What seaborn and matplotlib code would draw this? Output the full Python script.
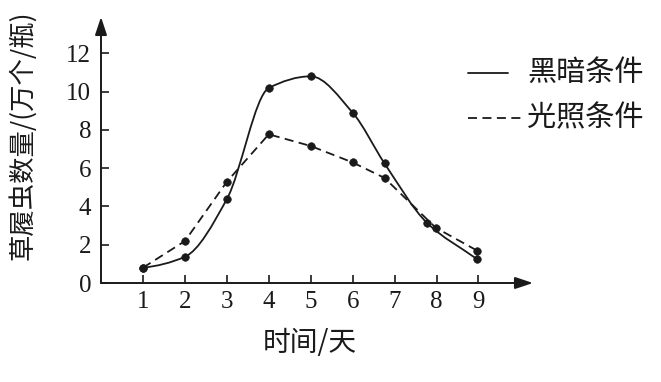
import numpy as np
import pandas as pd
import matplotlib
matplotlib.use("Agg")
import matplotlib.pyplot as plt
import seaborn as sns
from matplotlib.path import Path
from matplotlib.patches import PathPatch
from matplotlib.lines import Line2D

# ---- data ----
dark_x = [1, 2, 3, 4, 5, 6, 6.76, 7.77, 8.97]
dark_y = [0.8, 1.37, 4.38, 10.19, 10.8, 8.9, 6.25, 3.15, 1.24]
light_x = [1, 2, 3, 4, 5, 6, 6.76, 7.98, 8.97]
light_y = [0.8, 2.19, 5.29, 7.77, 7.16, 6.3, 5.49, 2.89, 1.69]
xticks = [1, 2, 3, 4, 5, 6, 7, 8, 9]
yticks = [0, 2, 4, 6, 8, 10, 12]
series_names = ["黑暗条件", "光照条件"]
xlabel = "时间/天"
ylabel = "草履虫数量/(万个/瓶)"

sns.set_theme(style="white")
plt.rcParams['font.family'] = ['Noto Sans CJK SC', 'DejaVu Sans']

INK = "#1a1a1a"
fig = plt.figure(figsize=(6.61, 3.82), dpi=100)
ax = fig.add_axes([101/661, 1-283/382, 432/661, 266/382])
ax.set_xlim(0, 10.3)
ax.set_ylim(0, 13.9)

df_dark = pd.DataFrame({"x": dark_x, "y": dark_y})
df_light = pd.DataFrame({"x": light_x, "y": light_y})

# smooth solid curve through the dark points: monotone (Fritsch-Carlson style)
# tangents rendered as cubic Bezier segments of a path in data coordinates
xs = np.asarray(dark_x, float)
ys = np.asarray(dark_y, float)
h = np.diff(xs)
d = np.diff(ys) / h
m = np.zeros_like(ys)
for k in range(1, len(xs) - 1):
    if d[k - 1] * d[k] > 0:
        w1 = 2 * h[k] + h[k - 1]
        w2 = h[k] + 2 * h[k - 1]
        m[k] = (w1 + w2) / (w1 / d[k - 1] + w2 / d[k])
m[0] = d[0] * 0.4
m[-1] = d[-1]
verts = [(xs[0], ys[0])]
codes = [Path.MOVETO]
for k in range(len(xs) - 1):
    c1 = (xs[k] + h[k] / 3, ys[k] + m[k] * h[k] / 3)
    c2 = (xs[k + 1] - h[k] / 3, ys[k + 1] - m[k + 1] * h[k] / 3)
    verts += [c1, c2, (xs[k + 1], ys[k + 1])]
    codes += [Path.CURVE4] * 3
ax.add_patch(PathPatch(Path(verts, codes), facecolor="none", edgecolor=INK, lw=1.3))

# dashed light series
sns.lineplot(data=df_light, x="x", y="y", sort=False, estimator=None, ax=ax,
             color=INK, lw=1.3, dashes=False, linestyle=(0, (5, 3)))
sns.scatterplot(data=df_dark, x="x", y="y", ax=ax, color=INK, s=30, edgecolor=INK, zorder=5)
sns.scatterplot(data=df_light, x="x", y="y", ax=ax, color=INK, s=30, edgecolor=INK, zorder=5)

# axes styling
for s in ["top", "right", "left", "bottom"]:
    ax.spines[s].set_visible(False)
ax.annotate("", xy=(1.0, 0), xytext=(0, 0), xycoords="axes fraction",
            arrowprops=dict(arrowstyle="-|>,head_length=0.9,head_width=0.3", color=INK, lw=1.4,
                            shrinkA=0, shrinkB=0))
ax.annotate("", xy=(0, 1.0), xytext=(0, 0), xycoords="axes fraction",
            arrowprops=dict(arrowstyle="-|>,head_length=0.9,head_width=0.3", color=INK, lw=1.4,
                            shrinkA=0, shrinkB=0))

ax.set_xticks(xticks)
ax.set_yticks(yticks)
ax.set_xticklabels([str(v) for v in xticks], family="Liberation Serif", fontsize=18, color=INK)
ax.set_yticklabels([str(v) for v in yticks], family="Liberation Serif", fontsize=18, color=INK)
ax.tick_params(axis="both", direction="in", length=6, width=1.2, color=INK)
ax.tick_params(axis="x", pad=6, bottom=True)
ax.tick_params(axis="y", pad=7, left=True)
ax.set_xlabel("")
ax.set_ylabel("")

fig.text(310/661, 1-343/382, xlabel, ha="center", va="center", fontsize=20, color=INK)
fig.text(22/661, 1-135/382, ylabel, ha="center", va="center", rotation=90, fontsize=19, color=INK)

# legend
fig.add_artist(Line2D([468/661, 508/661], [1-73/382, 1-73/382], color=INK, lw=1.3))
fig.add_artist(Line2D([468/661, 522/661], [1-118/382, 1-118/382], color=INK, lw=1.3,
                      linestyle=(0, (5, 3))))
fig.text(527/661, 1-73/382, series_names[0], ha="left", va="center", fontsize=21, color=INK)
fig.text(527/661, 1-118/382, series_names[1], ha="left", va="center", fontsize=21, color=INK)

fig.savefig("out.png", dpi=100)
